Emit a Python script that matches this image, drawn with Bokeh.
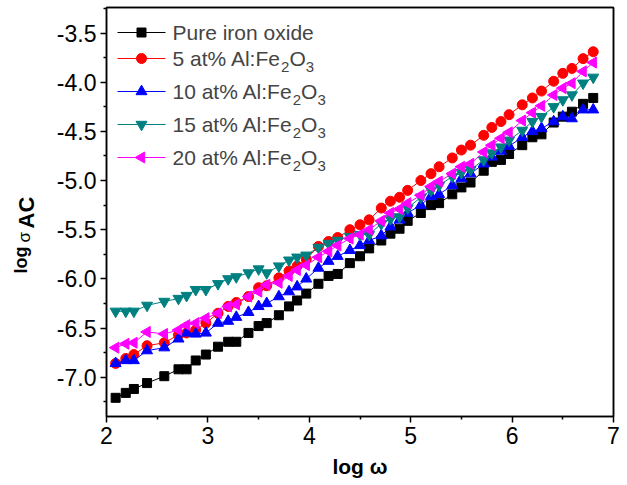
import math
from bokeh.plotting import figure
from bokeh.layouts import row
from bokeh.models import FixedTicker, NumeralTickFormatter, Label, LinearAxis
from bokeh.core.properties import value
from bokeh.embed import file_html
from bokeh.resources import INLINE

# ---- data ----
log_w = [2.09, 2.19, 2.27, 2.40, 2.57, 2.71, 2.79, 2.88, 2.98,
         3.10, 3.20, 3.28, 3.40, 3.50, 3.58, 3.70, 3.80, 3.88, 3.97,
         4.09, 4.19, 4.28, 4.40, 4.50, 4.59, 4.71, 4.80, 4.89, 4.97,
         5.10, 5.20, 5.28, 5.41, 5.50, 5.59, 5.72, 5.80, 5.89, 5.97,
         6.10, 6.20, 6.29, 6.41, 6.50, 6.59, 6.70, 6.80]

pure = [-7.21, -7.16, -7.12, -7.06, -6.99, -6.92, -6.92, -6.83, -6.77,
        -6.69, -6.64, -6.64, -6.55, -6.48, -6.45, -6.37, -6.28, -6.22, -6.15,
        -6.05, -5.97, -5.95, -5.84, -5.77, -5.69, -5.61, -5.54, -5.49, -5.41,
        -5.33, -5.25, -5.23, -5.14, -5.07, -5.02, -4.90, -4.81, -4.79, -4.73,
        -4.64, -4.56, -4.53, -4.41, -4.35, -4.30, -4.22, -4.16]

al5 = [-6.86, -6.81, -6.77, -6.68, -6.65, -6.57, -6.55, -6.52, -6.45,
       -6.35, -6.28, -6.24, -6.18, -6.09, -6.07, -5.99, -5.92, -5.87, -5.80,
       -5.67, -5.62, -5.58, -5.50, -5.45, -5.40, -5.28, -5.21, -5.17, -5.10,
       -5.00, -4.93, -4.86, -4.77, -4.69, -4.64, -4.54, -4.46, -4.40, -4.33,
       -4.23, -4.16, -4.09, -3.99, -3.91, -3.86, -3.76, -3.69]

al10 = [-6.86, -6.83, -6.83, -6.73, -6.70, -6.61, -6.55, -6.56, -6.55,
        -6.45, -6.43, -6.39, -6.34, -6.28, -6.25, -6.18, -6.13, -6.08, -6.00,
        -5.89, -5.82, -5.77, -5.71, -5.66, -5.61, -5.56, -5.47, -5.40, -5.33,
        -5.25, -5.16, -5.14, -5.05, -4.98, -4.93, -4.83, -4.76, -4.70, -4.65,
        -4.56, -4.50, -4.47, -4.40, -4.35, -4.37, -4.28, -4.28]

al15 = [-6.33, -6.33, -6.33, -6.27, -6.23, -6.20, -6.17, -6.11, -6.11,
        -6.05, -6.00, -5.98, -5.94, -5.90, -5.94, -5.87, -5.81, -5.78, -5.76,
        -5.68, -5.64, -5.61, -5.57, -5.55, -5.55, -5.44, -5.39, -5.37, -5.28,
        -5.17, -5.10, -5.05, -4.96, -4.92, -4.89, -4.79, -4.72, -4.66, -4.59,
        -4.49, -4.40, -4.35, -4.25, -4.18, -4.13, -4.01, -3.95]

al20 = [-6.70, -6.66, -6.65, -6.54, -6.56, -6.52, -6.47, -6.45, -6.40,
        -6.35, -6.28, -6.26, -6.18, -6.13, -6.06, -6.04, -5.97, -5.91, -5.86,
        -5.78, -5.72, -5.66, -5.59, -5.55, -5.50, -5.41, -5.33, -5.29, -5.23,
        -5.15, -5.06, -5.01, -4.93, -4.86, -4.83, -4.71, -4.64, -4.57, -4.51,
        -4.39, -4.31, -4.24, -4.13, -4.06, -4.01, -3.89, -3.80]

# legend texts: (text, is_subscript) pieces
series_labels = [
    [("Pure iron oxide", 0)],
    [("5 at% Al:Fe", 0), ("2", 1), ("O", 0), ("3", 1)],
    [("10 at% Al:Fe", 0), ("2", 1), ("O", 0), ("3", 1)],
    [("15 at% Al:Fe", 0), ("2", 1), ("O", 0), ("3", 1)],
    [("20 at% Al:Fe", 0), ("2", 1), ("O", 0), ("3", 1)],
]
x_ticks = [2, 3, 4, 5, 6, 7]
x_minor = [2.5, 3.5, 4.5, 5.5, 6.5]
y_ticks = [-7.0, -6.5, -6.0, -5.5, -5.0, -4.5, -4.0, -3.5]
y_minor = [-7.25, -6.75, -6.25, -5.75, -5.25, -4.75, -4.25, -3.75, -3.25]
x_title = "log \u03c9"
y_title = ["log ", "\u03c3", "AC"]

FONT = "Liberation Sans"
W, H = 627, 485
LW = 50                                     # width of the strip holding the y title
FL, FR, FT, FB = 106, 613, 7, 416          # frame edges (page px)
XR = (2, 7)
YR = (-7.4, -3.24)

# Arial / Liberation Sans advance widths (per 1000 em) for measuring legend text
ADV = {' ': 278, '%': 889, '.': 278, ':': 278, 'A': 667, 'F': 611, 'O': 778, 'P': 667,
       'a': 556, 'd': 556, 'e': 556, 'i': 222, 'l': 222, 'n': 556, 'o': 556, 'r': 333,
       't': 278, 'u': 556, 'x': 500}
for dch in "0123456789":
    ADV[dch] = 556


def text_w(s, px):
    return sum(ADV.get(ch, 556) for ch in s) * px / 1000.0


def sx2x(sx):
    return XR[0] + (sx - FL) * (XR[1] - XR[0]) / (FR - FL)


def sy2y(sy):
    return YR[1] - (sy - FT) * (YR[1] - YR[0]) / (FB - FT)


# ---- strip with the rotated y title (log sigma_AC) ----
# its frame is aligned with the main frame (rows share top/bottom borders),
# so its y range maps page px: y = H - page_y over the frame's height
t = figure(width=LW, height=H, x_range=(0, LW), y_range=(H - FB, H - FT),
           output_backend="svg", toolbar_location=None,
           x_axis_type=None, y_axis_type=None, min_border=0)
t.grid.visible = False
t.outline_line_color = None
t.background_fill_color = "white"
t.border_fill_color = "white"
# pieces: text, baseline x (px), start y (px from top), size, style
yt_x = [20, 24, 26]
yt_y = [273, 242, 228]
yt_size = ["18px", "17px", "22px"]
yt_style = ["bold", "normal", "bold"]
for txt, bx, by, fs, st in zip(y_title, yt_x, yt_y, yt_size, yt_style):
    t.text(x=[bx], y=[H - by], text=[txt], angle=math.pi / 2,
           text_font=value(FONT), text_font_size=fs, text_font_style=st,
           text_align="left", text_baseline="alphabetic", text_color="black")

# ---- main plot ----
p = figure(width=W - LW, height=H, x_range=XR, y_range=YR,
           output_backend="svg", toolbar_location=None,
           min_border_left=FL - LW, min_border_right=W - FR, min_border_top=FT, min_border_bottom=H - FB)
p.grid.visible = False
p.outline_line_color = "black"
p.outline_line_width = 1.5
p.background_fill_color = "white"
p.border_fill_color = "white"

for ax in (p.xaxis[0], p.yaxis[0]):
    ax.axis_line_width = 1.5
    ax.major_tick_line_width = 1.5
    ax.minor_tick_line_width = 1.5
    ax.major_tick_in = 0
    ax.major_tick_out = 6
    ax.minor_tick_in = 0
    ax.minor_tick_out = 3
    ax.major_label_text_font = FONT
    ax.major_label_text_font_size = "23px"
    ax.major_label_text_color = "black"

p.xaxis.ticker = FixedTicker(ticks=x_ticks, minor_ticks=x_minor)
p.yaxis.ticker = FixedTicker(ticks=y_ticks, minor_ticks=y_minor)
p.yaxis.formatter = NumeralTickFormatter(format="0.0")
p.xaxis.major_label_standoff = 4
p.yaxis.major_label_standoff = 4

p.xaxis.axis_label = x_title
p.xaxis.axis_label_text_font = FONT
p.xaxis.axis_label_text_font_style = "bold"
p.xaxis.axis_label_text_font_size = "21px"
p.xaxis.axis_label_text_color = "black"
p.xaxis.axis_label_standoff = 8

# frame lines on top and right
for loc in ("above", "right"):
    ax = LinearAxis(ticker=FixedTicker(ticks=[]), axis_line_width=1.5,
                    major_tick_out=0, major_tick_in=0, minor_tick_out=0, minor_tick_in=0,
                    major_label_text_font_size="0px")
    p.add_layout(ax, loc)

colors = ["black", "red", "blue", "#008080", "#ff00ff"]
markers = ["square", "circle", "triangle", "inverted_triangle", "triangle"]
sizes = [9, 10, 11, 11, 11]
angles = [0, 0, 0, 0, math.pi / 2]
data = [pure, al5, al10, al15, al20]

for ys, c, m, s, a in zip(data, colors, markers, sizes, angles):
    p.line(log_w, ys, line_color=c, line_width=1)
    p.scatter(log_w, ys, marker=m, size=s, angle=a, fill_color=c, line_color=c)

# legend, drawn by hand
rows = [32, 58, 91, 124, 157]
GX0, GX1, TX = 117, 165, 172
MAIN, SUB, SUB_DY = 21, 15, 8
for rw, c, m, s, a, pieces in zip(rows, colors, markers, sizes, angles, series_labels):
    p.line([sx2x(GX0), sx2x(GX1)], [sy2y(rw), sy2y(rw)], line_color=c, line_width=1)
    p.scatter([sx2x((GX0 + GX1) / 2)], [sy2y(rw)], marker=m, size=s, angle=a,
              fill_color=c, line_color=c)
    tx = TX
    for txt, sub in pieces:
        fs = SUB if sub else MAIN
        ty = rw + (SUB_DY if sub else 0)
        p.add_layout(Label(x=tx - FL, y=FB - ty, x_units="screen", y_units="screen",
                           text=txt, text_font=FONT, text_font_size=f"{fs}px",
                           text_align="left", text_baseline="middle"))
        tx += text_w(txt, fs)

layout = row(t, p, spacing=0)
open("out.html", "w").write(file_html(layout, INLINE))
